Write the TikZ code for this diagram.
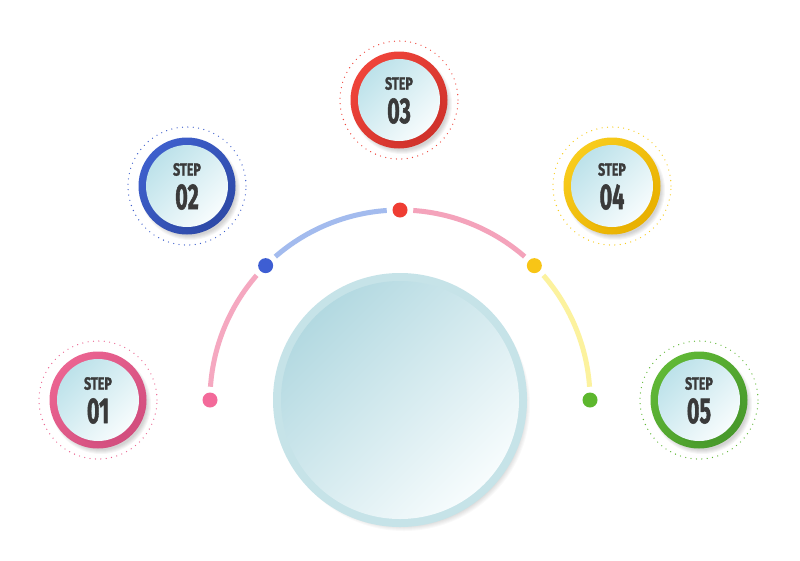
\documentclass[tikz,border=0pt]{standalone}
\usepackage{fontspec}
\usepackage{graphicx}
\newfontfamily\stepfont{Fira Sans}[BoldFeatures={FakeBold=1.6}]
\definecolor{pinkR}{HTML}{EB6491}\definecolor{pinkDk}{HTML}{D24E7E}
\definecolor{blueR}{HTML}{3E5FCC}\definecolor{blueDk}{HTML}{2E4AA8}
\definecolor{redR}{HTML}{EF443A}\definecolor{redDk}{HTML}{D0322B}
\definecolor{yelR}{HTML}{F8CC1C}\definecolor{yelDk}{HTML}{E8B000}
\definecolor{grnR}{HTML}{60B836}\definecolor{grnDk}{HTML}{48992B}
\definecolor{arcPink}{HTML}{F5A8C0}\definecolor{arcBlue}{HTML}{A3BBEE}
\definecolor{arcPinkB}{HTML}{F4A3BB}\definecolor{arcYel}{HTML}{FCF29E}
\definecolor{dotPink}{HTML}{F36A9A}\definecolor{dotBlue}{HTML}{3E5ED3}
\definecolor{dotRed}{HTML}{EF3D33}\definecolor{dotYel}{HTML}{F8C516}
\definecolor{dotGrn}{HTML}{5DB72E}
\definecolor{rim}{HTML}{C6E3E8}\definecolor{diskA}{HTML}{B3D9E1}
\definecolor{diskB}{HTML}{F7FCFD}\definecolor{smallA}{HTML}{BDE2EA}
\definecolor{txt}{HTML}{3A3A3A}
\begin{document}
\begin{tikzpicture}[x=1pt,y=1pt,
  arcline/.style={line width=5pt},
  dotnode/.style={circle,inner sep=0pt,minimum size=15pt},
  steptxt/.style={text=txt,inner sep=0pt,font=\stepfont\bfseries\fontsize{17.5}{17.5}\selectfont},
  numtxt/.style={text=txt,inner sep=0pt,font=\stepfont\bfseries\fontsize{36}{36}\selectfont}]
\useasboundingbox (0,0) rectangle (800,-560);
\fill[white] (0,0) rectangle (800,-560);
\coordinate (c) at (400,-400);

% big central circle
\foreach \k in {1,...,6} \fill[black,opacity=0.025] (404,-405) circle (120+\k);
\fill[rim] (c) circle (127);
\shade[top color=diskA,bottom color=diskB,shading angle=45] (c) circle (119);

% arc segments
\draw[arcline,arcPink] ([shift={(176:190)}]c) arc[start angle=176,end angle=139,radius=190];
\draw[arcline,arcBlue] ([shift={(131:190)}]c) arc[start angle=131,end angle=94,radius=190];
\draw[arcline,arcPinkB] ([shift={(86:190)}]c) arc[start angle=86,end angle=49,radius=190];
\draw[arcline,arcYel] ([shift={(41:190)}]c) arc[start angle=41,end angle=4,radius=190];

% dots
\node[dotnode,fill=dotPink] (d1) at ([shift={(180:190)}]c) {};
\node[dotnode,fill=dotBlue] (d2) at ([shift={(135:190)}]c) {};
\node[dotnode,fill=dotRed]  (d3) at ([shift={(90:190)}]c) {};
\node[dotnode,fill=dotYel]  (d4) at ([shift={(45:190)}]c) {};
\node[dotnode,fill=dotGrn]  (d5) at ([shift={(0:190)}]c) {};

% step badges
\foreach \i/\x/\y/\col/\dk in {1/98/400/pinkR/pinkDk,2/187/186/blueR/blueDk,3/399/100/redR/redDk,4/612/186/yelR/yelDk,5/699/400/grnR/grnDk}{
  \draw[\col,line width=1.3pt,line cap=round,dash pattern=on 0pt off 5.4pt] (\x,-\y) circle (59);
  \foreach \k in {1,...,5} \fill[black,opacity=0.035] (\x+3,-\y-4) circle (45+\k);
  \shade[top color=\col,bottom color=\dk,shading angle=45] (\x,-\y) circle (48.5);
  \fill[\dk,opacity=0.45] (\x+2,-\y-2.5) circle (41);
  \shade[top color=smallA,bottom color=diskB,shading angle=45] (\x,-\y) circle (41);
  \node[steptxt] (t\i) at (\x,-\y+16.5) {\scalebox{0.72}[1]{STEP}};
  \node[numtxt] (n\i) at (\x,-\y-11) {\scalebox{0.6}[1]{0\i}};
}
\end{tikzpicture}
\end{document}
